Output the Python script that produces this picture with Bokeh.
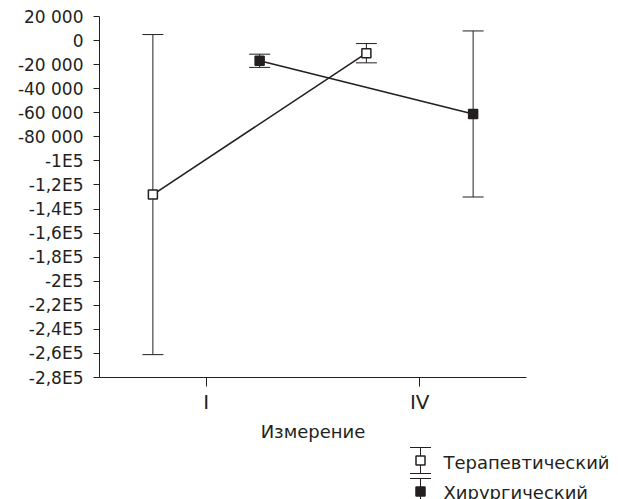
from bokeh.plotting import figure
from bokeh.models import (ColumnDataSource, FactorRange, Range1d, FixedTicker,
                          Whisker, TeeHead)
from bokeh.transform import dodge
from bokeh.layouts import column
from bokeh.core.properties import value
from bokeh.embed import file_html
from bokeh.resources import INLINE

# ---- data ----
categories = ["I", "IV"]
ther_mean = [-128000, -10500]
ther_err = [133000, 8000]
surg_mean = [-16800, -61000]
surg_err = [5500, 69000]
series_names = ["Терапевтический", "Хирургический"]
y_ticks = [-280000, -260000, -240000, -220000, -200000, -180000, -160000,
           -140000, -120000, -100000, -80000, -60000, -40000, -20000, 0, 20000]
y_tick_labels = ["-2,8E5", "-2,6E5", "-2,4E5", "-2,2E5", "-2E5", "-1,8E5", "-1,6E5",
                 "-1,4E5", "-1,2E5", "-1E5", "-80 000", "-60 000", "-40 000",
                 "-20 000", "0", "20 000"]
x_title = "Измерение"

INK = "#231f20"
FONT = "DejaVu Sans"

ther = ColumnDataSource(dict(x=categories, y=ther_mean,
                             upper=[m + e for m, e in zip(ther_mean, ther_err)],
                             lower=[m - e for m, e in zip(ther_mean, ther_err)]))
surg = ColumnDataSource(dict(x=categories, y=surg_mean,
                             upper=[m + e for m, e in zip(surg_mean, surg_err)],
                             lower=[m - e for m, e in zip(surg_mean, surg_err)]))

p = figure(width=610, height=444, x_range=FactorRange(*categories),
           y_range=Range1d(min(y_ticks), max(y_ticks)),
           output_backend="svg", toolbar_location=None,
           min_border_left=99, min_border_right=84, min_border_top=16,
           min_border_bottom=67)
p.frame_align = False
p.outline_line_color = None
p.grid.visible = False
p.background_fill_color = "white"

off = 0.25
for src, dx in ((ther, -off), (surg, off)):
    w = Whisker(base=dodge("x", dx, range=p.x_range), upper="upper", lower="lower",
                source=src, line_color=INK, line_width=1,
                upper_head=TeeHead(size=21, line_color=INK, line_width=1),
                lower_head=TeeHead(size=21, line_color=INK, line_width=1))
    p.add_layout(w)

p.line(x=dodge("x", -off, range=p.x_range), y="y", source=ther,
       line_color=INK, line_width=1.6)
p.line(x=dodge("x", off, range=p.x_range), y="y", source=surg,
       line_color=INK, line_width=1.6)
p.scatter(x=dodge("x", -off, range=p.x_range), y="y", source=ther, marker="square",
          size=9, fill_color="white", line_color=INK, line_width=1.5)
p.scatter(x=dodge("x", off, range=p.x_range), y="y", source=surg, marker="square",
          size=9, fill_color=INK, line_color=INK, line_width=1.5)

# y axis
p.yaxis.ticker = FixedTicker(ticks=y_ticks)
p.yaxis.major_label_overrides = {t: l for t, l in zip(y_ticks, y_tick_labels)}
p.yaxis.minor_tick_line_color = None
p.yaxis.major_tick_out = 6
p.yaxis.major_tick_in = 0
p.yaxis.major_label_standoff = 10
p.yaxis.major_label_text_font = FONT
p.yaxis.major_label_text_font_size = "17px"
p.yaxis.major_label_text_color = INK
p.yaxis.axis_line_color = INK
p.yaxis.major_tick_line_color = INK

# x axis
p.xaxis.major_tick_out = 9
p.xaxis.major_tick_in = 0
p.xaxis.major_label_standoff = 3
p.xaxis.major_label_text_font = FONT
p.xaxis.major_label_text_font_size = "20px"
p.xaxis.major_label_text_color = INK
p.xaxis.axis_line_color = INK
p.xaxis.major_tick_line_color = INK
p.xaxis.axis_label = x_title
p.xaxis.axis_label_text_font = FONT
p.xaxis.axis_label_text_font_size = "18px"
p.xaxis.axis_label_text_font_style = "normal"
p.xaxis.axis_label_text_color = INK
p.xaxis.axis_label_standoff = 4

# ---- legend panel (drawn manually to show error-bar symbols) ----
leg = figure(width=610, height=55, x_range=Range1d(0, 610), y_range=Range1d(55, 0),
             output_backend="svg", toolbar_location=None,
             x_axis_location=None, y_axis_location=None,
             min_border=0)
leg.frame_align = False
leg.outline_line_color = None
leg.grid.visible = False

sym_x = [420, 420]
sym_y = [16, 47]
stem_top = [3, 34]
stem_bot = [29, 62]
cap_half = 10.5
leg.segment(x0=sym_x, y0=stem_top, x1=sym_x, y1=stem_bot, line_color=INK, line_width=1)
leg.segment(x0=[x - cap_half for x in sym_x], y0=stem_top,
            x1=[x + cap_half for x in sym_x], y1=stem_top, line_color=INK, line_width=1)
leg.segment(x0=[x - cap_half for x in sym_x], y0=stem_bot,
            x1=[x + cap_half for x in sym_x], y1=stem_bot, line_color=INK, line_width=1)
leg.scatter(x=sym_x, y=sym_y, marker="square", size=9,
            fill_color=["white", INK], line_color=INK, line_width=1.5)
leg.text(x=[443, 443], y=[17.5, 47.5], text=series_names,
         text_font=value(FONT), text_font_size="18px", text_color=INK,
         text_baseline="middle", text_align="left")

layout = column(p, leg, spacing=0)
open("out.html", "w").write(file_html(layout, INLINE))
